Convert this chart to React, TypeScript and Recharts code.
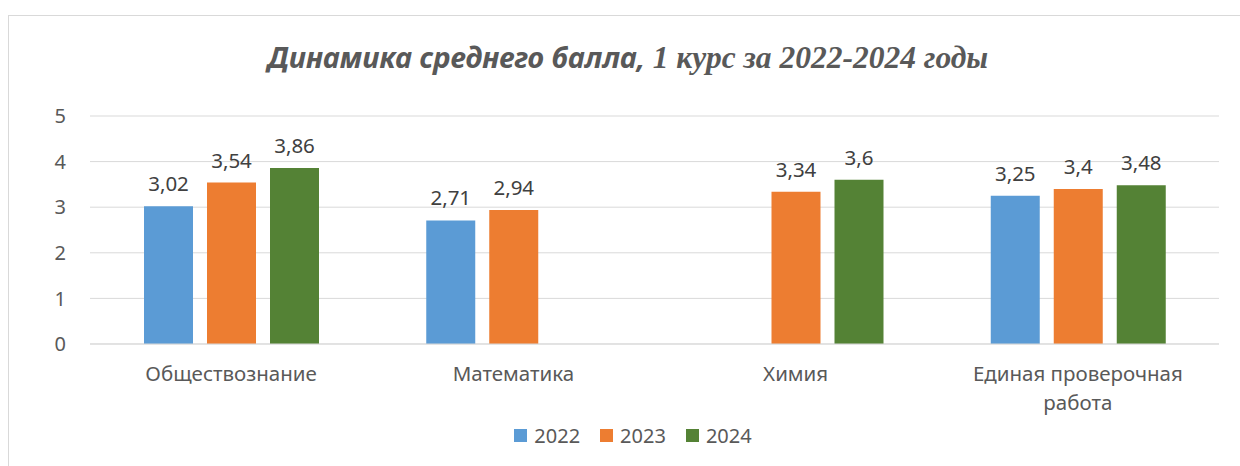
import React from "react";
import { BarChart, Bar, XAxis, YAxis, CartesianGrid, LabelList, Legend } from "recharts";

const categories = ["Обществознание", "Математика", "Химия", "Единая проверочная работа"];
const values2022: (number | null)[] = [3.02, 2.71, null, 3.25];
const values2023: (number | null)[] = [3.54, 2.94, 3.34, 3.4];
const values2024: (number | null)[] = [3.86, null, 3.6, 3.48];
const yTicks = [0, 1, 2, 3, 4, 5];
const seriesNames = ["2022", "2023", "2024"];
const seriesColors = ["#5B9BD5", "#ED7D31", "#548235"];

const data = categories.map((c, i) => ({
  name: c,
  y2022: values2022[i],
  y2023: values2023[i],
  y2024: values2024[i],
}));

const FONT = "'Noto Sans', sans-serif";

const fmt = (v: any) => (v === null || v === undefined ? "" : String(v).replace(".", ","));

const wrapWords = (s: string, maxChars: number) => {
  const words = s.split(" ");
  const lines: string[] = [];
  let cur = "";
  words.forEach((w) => {
    const next = cur ? cur + " " + w : w;
    if (next.length > maxChars && cur) {
      lines.push(cur);
      cur = w;
    } else {
      cur = next;
    }
  });
  if (cur) lines.push(cur);
  return lines;
};

const XTick = (props: any) => {
  const { x, y, payload } = props;
  const lines = wrapWords(String(payload.value), 20);
  return (
    <text
      x={x}
      y={y + 22}
      textAnchor="middle"
      fill="#595959"
      style={{ fontFamily: FONT, fontSize: 20.5 }}
    >
      {lines.map((l, i) => (
        <tspan key={i} x={x} dy={i === 0 ? "0.71em" : 29}>
          {l}
        </tspan>
      ))}
    </text>
  );
};

const LegendContent = () => (
  <div style={{ display: "flex", justifyContent: "center", fontFamily: FONT, fontSize: 20, color: "#595959" }}>
    {seriesNames.map((n, i) => (
      <div key={n} style={{ display: "flex", alignItems: "center", marginRight: i < 2 ? 20 : 0 }}>
        <div style={{ width: 13, height: 13, background: seriesColors[i], marginRight: 7 }} />
        <span>{n}</span>
      </div>
    ))}
  </div>
);

export default function App() {
  const keys = ["y2022", "y2023", "y2024"];
  return (
    <div style={{ position: "absolute", left: 0, top: 0, width: 1240, height: 466, overflow: "hidden" }}>
      <div
        style={{
          position: "absolute",
          left: 8,
          top: 15,
          width: 1232,
          height: 451,
          boxSizing: "border-box",
          borderLeft: "1px solid #d9d9d9",
          borderTop: "1px solid #d9d9d9",
        }}
      />
      <svg style={{ position: "absolute", left: 0, top: 0 }} width={1240} height={100}>
        <text x={628} y={68} textAnchor="middle" fill="#595959" fontWeight="bold" fontStyle="italic">
          <tspan style={{ fontFamily: FONT, fontSize: 29 }}>Динамика среднего балла, </tspan>
          <tspan style={{ fontFamily: "'Liberation Serif', serif", fontSize: 31.5 }}>1 курс за 2022-2024 годы</tspan>
        </text>
      </svg>
      <div style={{ position: "absolute", left: 0, top: 0 }}>
        <BarChart
          width={1240}
          height={466}
          data={data}
          margin={{ top: 116, right: 21, left: 0, bottom: 92 }}
          barSize={49}
          barGap={14}
        >
          <CartesianGrid vertical={false} stroke="#d9d9d9" />
          <XAxis
            dataKey="name"
            axisLine={{ stroke: "#d9d9d9" }}
            tickLine={false}
            tickSize={0}
            tickMargin={0}
            tick={<XTick />}
            interval={0}
            height={30}
          />
          <YAxis
            domain={[0, 5]}
            ticks={yTicks}
            width={90}
            axisLine={false}
            tickLine={false}
            tickSize={0}
            tickMargin={24}
            tick={{ fill: "#595959", fontFamily: FONT, fontSize: 20 }}
          />
          <Legend
            layout="vertical"
            align="center"
            verticalAlign="middle"
            content={<LegendContent />}
            wrapperStyle={{ top: 422, left: 13, width: 1240 }}
          />
          {keys.map((k, i) => (
            <Bar key={k} dataKey={k} name={seriesNames[i]} fill={seriesColors[i]} isAnimationActive={false}>
              <LabelList
                dataKey={k}
                position="top"
                offset={15}
                formatter={fmt}
                fill="#404040"
                style={{ fontFamily: FONT, fontSize: 20.5 }}
              />
            </Bar>
          ))}
        </BarChart>
      </div>
    </div>
  );
}
